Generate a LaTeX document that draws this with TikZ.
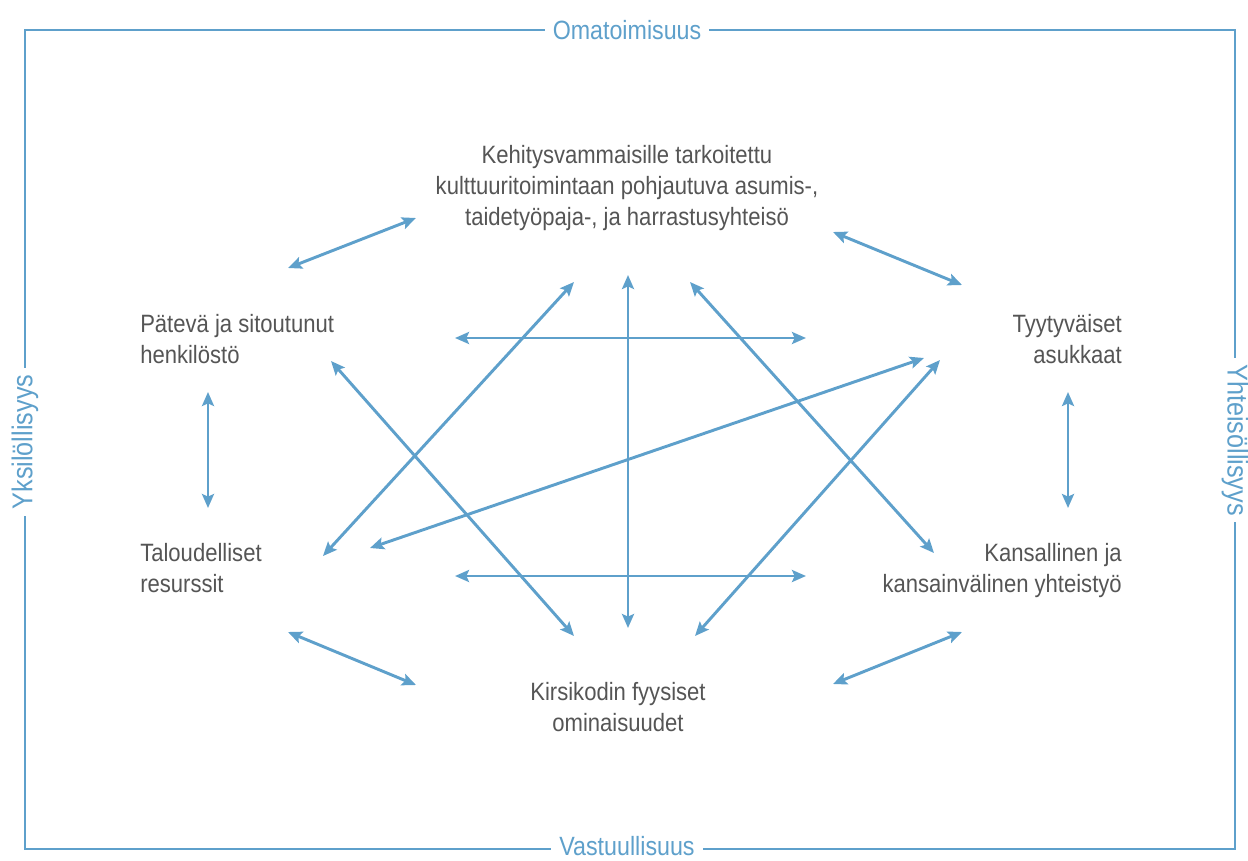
\documentclass[tikz,border=0pt]{standalone}
\usepackage{fontspec}
\setmainfont[FakeStretch=0.88]{Liberation Sans}
\usepackage{tikz}
\usetikzlibrary{positioning, arrows.meta}

\definecolor{frameblue}{HTML}{5EA0CB}
\definecolor{textgray}{HTML}{555555}

\tikzset{
  box text/.style={text=textgray, inner sep=0pt, font=\fontsize{18.8}{23.25}\selectfont},
  frame label/.style={text=frameblue, fill=white, inner xsep=6pt, inner ysep=0pt, font=\fontsize{19.8}{23}\selectfont},
  side label/.style={frame label, inner xsep=5pt, font=\fontsize{21.5}{24}\selectfont},
  link/.style={every edge/.style={draw=frameblue, line width=2.2pt,
      {Stealth[length=10.5pt, width=9pt, inset=2pt]}-{Stealth[length=10.5pt, width=9pt, inset=2pt]}}}
}

\begin{document}
\begin{tikzpicture}[x=0.75pt, y=-0.75pt]
		\useasboundingbox (0,0) rectangle (1248,860);
		
		% frame
		\draw[frameblue, line width=2.2pt] (25,30) rectangle (1235,849);
		\node[frame label] (omat) at (627,30) {Omatoimisuus};
		\node[frame label, anchor=base, text depth=0pt, inner ysep=1pt] (vast) at (627,855) {Vastuullisuus};
		\node[side label, rotate=90] (yksi) at (25,442) {Yksilöllisyys};
		\node[side label, rotate=-90] (yhte) at (1235,440) {Yhteisöllisyys};
		
		% texts
		\node[box text, align=center, anchor=base] (yhteiso) at (627,225) {Kehitysvammaisille tarkoitettu\\kulttuuritoimintaan pohjautuva asumis-,\\taidetyöpaja-, ja harrastusyhteisö};
		\node[box text, align=left, anchor=base west] (henk) at (140,363) {Pätevä ja sitoutunut\\henkilöstö};
		\node[box text, align=right, anchor=base east] (asuk) at (1122,363) {Tyytyväiset\\asukkaat};
		\node[box text, align=left, anchor=base west] (resu) at (140,592) {Taloudelliset\\resurssit};
		\node[box text, align=right, anchor=base east] (yhty) at (1122,592) {Kansallinen ja\\kansainvälinen yhteistyö};
		\node[box text, align=center, anchor=base] (kirs) at (618,731) {Kirsikodin fyysiset\\ominaisuudet};
		
		% arrow ends
		\coordinate (h1) at (288,268);   \coordinate (y1) at (416,218);
		\coordinate (y2) at (833,232);   \coordinate (a1) at (962,285);
		\coordinate (h2) at (208,392);   \coordinate (r1) at (208,508);
		\coordinate (a2) at (1068,392);  \coordinate (t1) at (1068,508);
		\coordinate (m1) at (455,338);   \coordinate (m2) at (806,338);
		\coordinate (m3) at (455,576);   \coordinate (m4) at (806,576);
		\coordinate (y3) at (628,275);   \coordinate (k1) at (628,628);
		\coordinate (r2) at (323,556);   \coordinate (y4) at (574,282);
		\coordinate (r3) at (370,548);   \coordinate (a3) at (924,358);
		\coordinate (h3) at (331,361);   \coordinate (k2) at (574,636);
		\coordinate (y5) at (690,282);   \coordinate (t2) at (934,553);
		\coordinate (k3) at (695,636);   \coordinate (a4) at (940,360);
		\coordinate (r4) at (288,632);   \coordinate (k4) at (416,685);
		\coordinate (k5) at (833,684);   \coordinate (t3) at (962,632);
		
		\path[link]
		(h1) edge (y1)
		(y2) edge (a1)
		(h2) edge (r1)
		(a2) edge (t1)
		(m1) edge (m2)
		(m3) edge (m4)
		(y3) edge (k1)
		(r2) edge (y4)
		(r3) edge (a3)
		(h3) edge (k2)
		(y5) edge (t2)
		(k3) edge (a4)
		(r4) edge (k4)
		(k5) edge (t3);
	\end{tikzpicture}
\end{document}
